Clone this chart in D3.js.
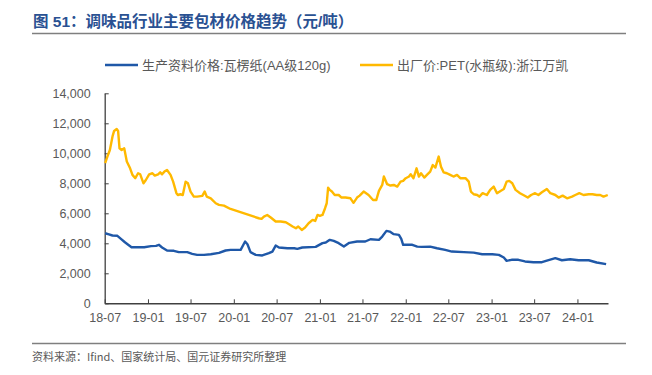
<!DOCTYPE html>
<html>
	<head>
		<meta charset="utf-8">
		<title>调味品行业主要包材价格趋势</title>
		<style>
			body, html { margin: 0; padding: 0; background: #fff; }
			svg { display: block; }
		</style>
	</head>
	<body>

		<svg id="svg" width="652" height="375"></svg>

		<script src="https://d3js.org/d3.v7.min.js"></script>
		<script>
			// 出厂价:PET(水瓶级):浙江万凯 (yellow)
			const petDates = [
				'2018-07-03','2018-07-15','2018-07-23','2018-08-03','2018-08-10','2018-08-21','2018-08-27',
				'2018-09-02','2018-09-11','2018-09-22','2018-10-03','2018-10-17','2018-10-27','2018-11-08',
				'2018-11-20','2018-11-29','2018-12-13','2018-12-23','2019-01-06','2019-01-20','2019-01-30',
				'2019-02-13','2019-02-22','2019-03-02','2019-03-12','2019-03-23','2019-04-07','2019-04-18',
				'2019-05-02','2019-05-08','2019-05-19','2019-05-29','2019-06-10','2019-06-20','2019-07-01',
				'2019-07-15','2019-07-29','2019-08-20','2019-08-30','2019-09-08','2019-09-25','2019-10-16',
				'2019-10-30','2019-11-20','2019-12-18','2020-04-16','2020-04-28','2020-05-08','2020-05-22',
				'2020-06-06','2020-06-27','2020-07-18','2020-08-09','2020-08-23','2020-09-07','2020-09-21',
				'2020-10-01','2020-10-16','2020-10-30','2020-11-14','2020-12-01','2020-12-12','2020-12-22',
				'2021-01-01','2021-01-12','2021-01-23','2021-01-30','2021-02-05','2021-02-12','2021-02-21',
				'2021-03-05','2021-03-22','2021-04-03','2021-04-20','2021-05-11','2021-05-24','2021-06-08',
				'2021-06-19','2021-07-06','2021-07-27','2021-08-15','2021-08-29','2021-09-09','2021-09-23',
				'2021-09-30','2021-10-14','2021-10-28','2021-11-11','2021-11-26','2021-12-10','2021-12-21',
				'2022-01-01','2022-01-15','2022-01-22','2022-02-03','2022-02-16','2022-02-26','2022-03-07',
				'2022-03-21','2022-04-01','2022-04-15','2022-04-26','2022-05-07','2022-05-21','2022-05-31',
				'2022-06-11','2022-06-25','2022-07-09','2022-07-23','2022-08-07','2022-08-21','2022-09-12',
				'2022-09-26','2022-10-05','2022-10-17','2022-11-01','2022-11-10','2022-11-24','2022-12-12',
				'2022-12-26','2023-01-10','2023-01-24','2023-02-08','2023-02-22','2023-03-06','2023-03-17',
				'2023-03-30','2023-04-13','2023-05-02','2023-05-16','2023-06-04','2023-06-18','2023-07-05',
				'2023-07-19','2023-08-03','2023-08-24','2023-09-08','2023-09-29','2023-10-13','2023-10-30',
				'2023-11-18','2023-12-09','2023-12-23','2024-01-09','2024-01-27','2024-02-18','2024-03-05',
				'2024-03-23','2024-04-07','2024-04-21','2024-05-09'
			]
			const petValues = [
				9350, 9890, 10220, 11110, 11490, 11620, 11490,
				10330, 10220, 10330, 9450, 9000, 8560, 8340,
				8670, 8600, 8000, 8220, 8600, 8670, 8510,
				8600, 8730, 8600, 8780, 8890, 8560, 8110,
				7340, 7220, 7270, 7220, 8110, 8000, 7450,
				7110, 7110, 7160, 7450, 7110, 7000, 6670,
				6560, 6510, 6290, 5670, 5630, 5780, 5890,
				5720, 5450, 5450, 5400, 5270, 5120, 5000,
				5120, 4890, 5050, 5340, 5560, 5490, 5890,
				5830, 5890, 6340, 6670, 7710, 7560, 7450,
				7220, 7220, 7050, 7050, 7000, 6700, 7050,
				7180, 7450, 7220, 6890, 6890, 7490, 7890,
				8450, 7940, 7850, 7890, 7780, 8110, 8160,
				8340, 8450, 8600, 8340, 9000, 8450, 8670,
				8380, 8560, 8780, 9220, 9050, 9780, 9110,
				8730, 8670, 8560, 8450, 8560, 8340, 8340,
				8110, 7450, 7270, 7220, 7110, 7340, 7220,
				7560, 7780, 7340, 7490, 7620, 8110, 8160,
				8000, 7560, 7340, 7220, 7050, 7220, 7340,
				7220, 7400, 7620, 7340, 7220, 7050, 7180,
				7000, 7110, 7220, 7340, 7220, 7270, 7270,
				7220, 7220, 7110, 7220
			]

			// 生产资料价格:瓦楞纸(AA级120g) (blue)
			const paperDates = [
				'2018-07-03','2018-07-19','2018-08-03','2018-08-24','2018-09-08','2018-09-25','2018-10-06',
				'2018-10-23','2018-11-18','2018-12-16','2019-01-14','2019-02-04','2019-02-17','2019-03-02',
				'2019-03-23','2019-04-21','2019-05-12','2019-06-17','2019-07-08','2019-07-29','2019-08-27',
				'2019-09-25','2019-10-30','2019-11-27','2019-12-18','2020-01-30','2020-02-18','2020-02-28',
				'2020-03-12','2020-04-03','2020-05-01','2020-05-29','2020-06-13','2020-06-27','2020-07-11',
				'2020-08-16','2020-09-14','2020-09-27','2020-10-18','2020-12-14','2021-01-12','2021-01-26',
				'2021-02-12','2021-03-01','2021-03-22','2021-04-13','2021-05-06','2021-06-08','2021-07-13',
				'2021-08-04','2021-09-09','2021-09-23','2021-10-11','2021-10-25','2021-11-11','2021-12-03',
				'2021-12-13','2021-12-21','2022-01-29','2022-02-19','2022-03-10','2022-04-15','2022-05-14',
				'2022-06-18','2022-07-16','2022-09-05','2022-10-17','2022-11-22','2023-01-04','2023-02-01',
				'2023-02-22','2023-03-06','2023-03-27','2023-04-25','2023-05-23','2023-06-28','2023-08-03',
				'2023-08-24','2023-09-29','2023-10-27','2023-12-01','2024-01-06','2024-02-18','2024-03-23',
				'2024-05-02'
			]
			const paperValues = [
				4670, 4600, 4520, 4500, 4300, 4070, 3940,
				3740, 3740, 3740, 3810, 3830, 3900, 3720,
				3520, 3500, 3410, 3410, 3300, 3230, 3230,
				3270, 3360, 3520, 3560, 3560, 4120, 3940,
				3410, 3230, 3190, 3340, 3450, 3850, 3720,
				3670, 3670, 3630, 3720, 3760, 4010, 4050,
				4230, 4160, 4010, 3780, 4030, 4120, 4120,
				4270, 4230, 4450, 4830, 4780, 4610, 4560,
				4300, 3900, 3900, 3780, 3760, 3780, 3670,
				3560, 3450, 3410, 3380, 3270, 3270, 3230,
				3050, 2830, 2900, 2900, 2790, 2740, 2740,
				2850, 3010, 2870, 2940, 2870, 2870, 2720,
				2610
			]

			const yTicks = [0, 2000, 4000, 6000, 8000, 10000, 12000, 14000]
			const xTickLabels = ['18-07','19-01','19-07','20-01','20-07','21-01','21-07','22-01','22-07','23-01','23-07','24-01']

			const legendNames = ['生产资料价格:瓦楞纸(AA级120g)', '出厂价:PET(水瓶级):浙江万凯']
			const colors = ['#1f58a8', '#ffb900']

			const font = "Arial, 'Liberation Sans', 'Noto Sans CJK SC', sans-serif"
			const parse = d3.timeParse('%Y-%m-%d')
			const parseTick = d3.timeParse('%y-%m')

			const svg = d3.select('#svg')

			// title
			svg.append('text')
				.attr('x', 33)
				.attr('y', 27)
				.attr('font-family', "Arial, 'Noto Sans CJK SC', sans-serif")
				.attr('font-weight', 'bold')
				.attr('font-size', 15.5)
				.attr('fill', '#2a5192')
				.text('图 51：调味品行业主要包材价格趋势（元/吨）')
			svg.append('line')
				.attr('x1', 32).attr('x2', 626)
				.attr('y1', 33.5).attr('y2', 33.5)
				.attr('stroke', '#7f7f7f').attr('stroke-width', 1.5)

			// scales
			const x = d3.scaleTime()
				.domain([parse('2018-07-01'), parse('2024-05-10')])
				.range([104.7, 608])
			const y = d3.scaleLinear()
				.domain([0, 14000])
				.range([303.3, 93.3])

			// y axis
			const yAxis = svg.append('g')
				.attr('transform', 'translate(104.7,0)')
				.call(d3.axisLeft(y).tickValues(yTicks).tickFormat(d3.format(',')).tickSizeInner(-4).tickSizeOuter(0).tickPadding(14))
			yAxis.select('.domain').attr('stroke', '#404040').attr('stroke-width', 1.3)
			yAxis.selectAll('.tick line').attr('stroke', '#404040')
			yAxis.selectAll('text').attr('font-family', font).attr('font-size', 12.5).attr('fill', '#595959')

			// x axis
			const xAxis = svg.append('g')
				.attr('transform', 'translate(0,303.3)')
				.call(d3.axisBottom(x)
					.tickValues(xTickLabels.map(parseTick))
					.tickFormat(d3.timeFormat('%y-%m'))
					.tickSizeInner(-4).tickSizeOuter(0).tickPadding(10))
			xAxis.select('.domain').attr('stroke', '#404040').attr('stroke-width', 1.5)
			xAxis.selectAll('.tick line').attr('stroke', '#404040')
			xAxis.selectAll('text').attr('font-family', font).attr('font-size', 12.5).attr('fill', '#595959')

			// lines
			const line = d3.line()
				.x(d => x(d.date))
				.y(d => y(d.value))

			const series = [
				paperDates.map((d, i) => ({ date: parse(d), value: paperValues[i] })),
				petDates.map((d, i) => ({ date: parse(d), value: petValues[i] }))
			]

			svg.append('g')
				.selectAll('path')
				.data(series)
				.enter()
				.append('path')
				.attr('d', line)
				.attr('fill', 'none')
				.attr('stroke', (d, i) => colors[i])
				.attr('stroke-width', 2.4)
				.attr('stroke-linejoin', 'round')

			// legend
			const legendX = [105, 360]
			const legend = svg.append('g')
				.selectAll('g')
				.data(legendNames)
				.enter()
				.append('g')
				.attr('transform', (d, i) => `translate(${legendX[i]}, 65)`)
			legend.append('line')
				.attr('x1', 0).attr('x2', 33)
				.attr('stroke', (d, i) => colors[i])
				.attr('stroke-width', 2.6)
			legend.append('text')
				.attr('x', 37)
				.attr('dy', '0.35em')
				.attr('font-family', font)
				.attr('font-size', 13)
				.attr('fill', '#595959')
				.text(d => d)

			// source
			svg.append('line')
				.attr('x1', 32).attr('x2', 626)
				.attr('y1', 343.5).attr('y2', 343.5)
				.attr('stroke', '#7f7f7f').attr('stroke-width', 1.5)
			svg.append('text')
				.attr('x', 32)
				.attr('y', 361)
				.attr('font-family', "'Noto Sans CJK SC', sans-serif")
				.attr('font-size', 11)
				.attr('fill', '#595959')
				.text('资料来源：Ifind、国家统计局、国元证券研究所整理')
		</script>
	</body>
</html>
